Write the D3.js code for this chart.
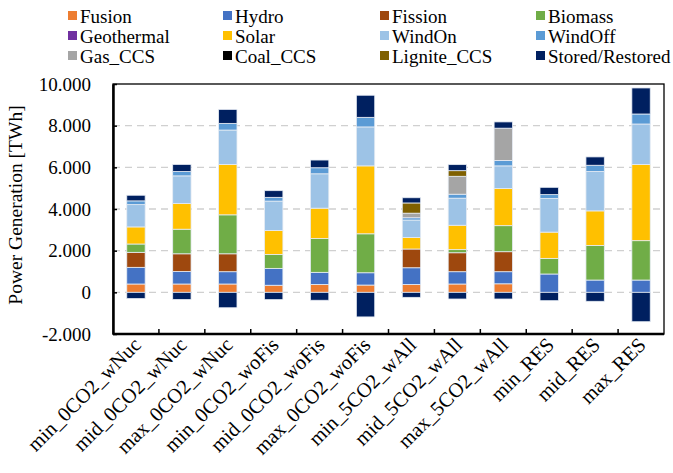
<!DOCTYPE html>
<html>
<head>
<meta charset="utf-8">
<script src="https://cdn.jsdelivr.net/npm/d3@7"></script>
<style>
  html, body { margin: 0; padding: 0; background: #fff; }
  svg { display: block; }
  text { font-family: "Liberation Serif", "Times New Roman", serif; fill: #000; }
</style>
</head>
<body>
<svg id="chart" width="673" height="473"></svg>
<script>
// Scenario names
const scenarios = [
  "min_0CO2_wNuc", "mid_0CO2_wNuc", "max_0CO2_wNuc",
  "min_0CO2_woFis", "mid_0CO2_woFis", "max_0CO2_woFis",
  "min_5CO2_wAll", "mid_5CO2_wAll", "max_5CO2_wAll",
  "min_RES", "mid_RES", "max_RES"
];

// Generation per technology [TWh]
const fusion     = [400, 400, 400, 340, 380, 350, 380, 400, 410, 0, 0, 0];
const hydro      = [800, 600, 590, 810, 580, 590, 800, 590, 580, 880, 590, 590];
const fission    = [720, 850, 860, 0, 0, 0, 900, 910, 960, 0, 0, 0];
const biomass    = [400, 1180, 1870, 670, 1620, 1870, 0, 150, 1250, 750, 1660, 1890];
const geothermal = [0, 0, 0, 0, 0, 0, 0, 0, 0, 0, 0, 0];
const solar      = [820, 1230, 2420, 1150, 1460, 3260, 550, 1170, 1780, 1260, 1660, 3660];
const windOn     = [1070, 1330, 1650, 1410, 1650, 1870, 840, 1300, 1090, 1620, 1890, 1940];
const windOff    = [180, 210, 320, 180, 290, 460, 110, 190, 260, 180, 300, 480];
const gasCCS     = [0, 0, 0, 0, 0, 0, 220, 860, 1550, 0, 0, 0];
const coalCCS    = [0, 0, 0, 0, 0, 0, 0, 0, 0, 0, 0, 0];
const ligniteCCS = [0, 0, 0, 0, 0, 0, 490, 270, 0, 0, 0, 0];
const stored     = [270, 340, 670, 320, 370, 1060, 250, 290, 300, 350, 400, 1250];
const restored   = [-300, -340, -740, -350, -380, -1180, -240, -320, -320, -400, -430, -1410];

// Y axis ticks
const yTicks = [-2000, 0, 2000, 4000, 6000, 8000, 10000];

const series = [
  { key: "Fusion",      values: fusion,     color: "#ED7D31", legend: true },
  { key: "Hydro",       values: hydro,      color: "#4472C4", legend: true },
  { key: "Fission",     values: fission,    color: "#9E480E", legend: true },
  { key: "Biomass",     values: biomass,    color: "#70AD47", legend: true },
  { key: "Geothermal",  values: geothermal, color: "#7030A0", legend: true },
  { key: "Solar",       values: solar,      color: "#FFC000", legend: true },
  { key: "WindOn",      values: windOn,     color: "#9DC3E6", legend: true },
  { key: "WindOff",     values: windOff,    color: "#5B9BD5", legend: true },
  { key: "Gas_CCS",     values: gasCCS,     color: "#A5A5A5", legend: true },
  { key: "Coal_CCS",    values: coalCCS,    color: "#000000", legend: true },
  { key: "Lignite_CCS", values: ligniteCCS, color: "#7F6000", legend: true },
  { key: "Stored/Restored", values: stored, color: "#002060", legend: true },
  { key: "Restored",    values: restored,   color: "#002060", legend: false }
];

const table = scenarios.map((s, i) => {
  const row = { scenario: s };
  series.forEach(d => { row[d.key] = d.values[i]; });
  return row;
});

const svg = d3.select("#chart");
const margin = { left: 113, right: 9, top: 84, bottom: 139 };
const W = 673, H = 473;
const x0 = margin.left, x1 = W - margin.right;
const y0 = H - margin.bottom, y1 = margin.top;

const x = d3.scaleBand().domain(scenarios).range([x0, x1]).paddingInner(0.6).paddingOuter(0.3);
const xEdges = d3.scaleBand().domain(scenarios).range([x0, x1]).padding(0);
const y = d3.scaleLinear().domain([-2000, 10000]).range([y0, y1]);

const de = d3.formatLocale({ decimal: ",", thousands: ".", grouping: [3], currency: ["", "€"], minus: "-" });
const fmt = de.format(",");

// Gridlines
svg.append("g")
  .selectAll("line")
  .data(yTicks.filter(t => t < 10000 && t > -2000))
  .join("line")
  .attr("x1", x0).attr("x2", x1)
  .attr("y1", d => y(d)).attr("y2", d => y(d))
  .attr("stroke", "#d0d0d0")
  .attr("stroke-width", 1.3)
  .attr("stroke-dasharray", "7,5");

// Stacked bars
const stack = d3.stack()
  .keys(series.map(d => d.key))
  .offset(d3.stackOffsetDiverging);
const layers = stack(table);

svg.append("g")
  .selectAll("g")
  .data(layers)
  .join("g")
  .attr("fill", (d, i) => series[i].color)
  .selectAll("rect")
  .data(d => d.filter(p => p[1] !== p[0]))
  .join("rect")
  .attr("x", d => x(d.data.scenario))
  .attr("width", x.bandwidth())
  .attr("y", d => y(Math.max(d[0], d[1])))
  .attr("height", d => Math.abs(y(d[0]) - y(d[1])))
  .attr("stroke", "#e6ecf4")
  .attr("stroke-width", 0.8);

// Plot frame
svg.append("rect")
  .attr("x", x0).attr("y", y1)
  .attr("width", x1 - x0).attr("height", y0 - y1)
  .attr("fill", "none")
  .attr("stroke", "#000")
  .attr("stroke-width", 1.3);

// Y axis
const yAxis = d3.axisLeft(y).tickValues(yTicks).tickSizeInner(-4).tickSizeOuter(0).tickPadding(22).tickFormat(fmt);
const gy = svg.append("g").attr("transform", `translate(${x0},0)`).call(yAxis);
gy.select(".domain").attr("stroke", "#000").attr("stroke-width", 2.5);
gy.selectAll(".tick line").attr("stroke", "#000").attr("stroke-width", 1.5);
gy.selectAll(".tick text")
  .style("font-family", '"Liberation Serif", serif')
  .style("font-size", "19px")
  .attr("fill", "#000");

// X axis with ticks at category boundaries
svg.append("line")
  .attr("x1", x0).attr("x2", x1).attr("y1", y0).attr("y2", y0)
  .attr("stroke", "#000").attr("stroke-width", 2.5);
svg.append("g")
  .selectAll("line")
  .data(scenarios.slice(1))
  .join("line")
  .attr("x1", d => xEdges(d)).attr("x2", d => xEdges(d))
  .attr("y1", y0).attr("y2", y0 - 5)
  .attr("stroke", "#000").attr("stroke-width", 1.5);

svg.append("g")
  .selectAll("text")
  .data(scenarios)
  .join("text")
  .attr("transform", d => `translate(${x(d) + x.bandwidth() / 2 - 4},${y0 + 2}) rotate(-45)`)
  .attr("text-anchor", "end")
  .attr("dy", "0.7em")
  .style("font-size", "20.5px")
  .text(d => d);

// Y axis title
svg.append("text")
  .attr("transform", `translate(22,${(y0 + y1) / 2 - 4}) rotate(-90)`)
  .attr("text-anchor", "middle")
  .style("font-size", "19.5px")
  .text("Power Generation [TWh]");

// Legend
const legendItems = series.filter(d => d.legend);
const colX = [68, 223, 380, 536];
const rowY = [16, 36, 56];
const lg = svg.append("g")
  .selectAll("g")
  .data(legendItems)
  .join("g")
  .attr("transform", (d, i) => `translate(${colX[i % 4]},${rowY[Math.floor(i / 4)]})`);
lg.append("rect")
  .attr("x", 0).attr("y", -5)
  .attr("width", 9).attr("height", 9)
  .attr("fill", d => d.color);
lg.append("text")
  .attr("x", 12).attr("y", 0)
  .attr("dy", "0.35em")
  .style("font-size", "19px")
  .text(d => d.key);
</script>
</body>
</html>
